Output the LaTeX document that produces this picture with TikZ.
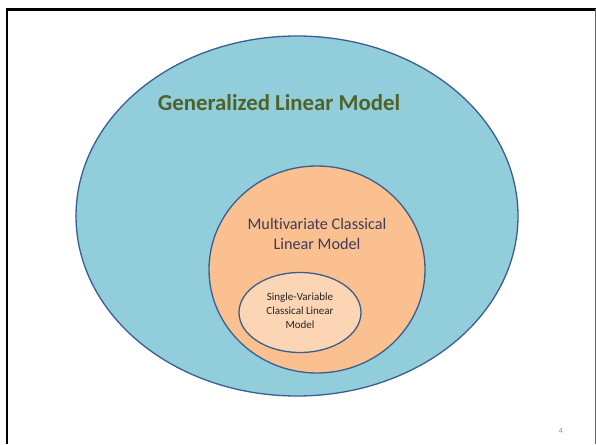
\documentclass[tikz,border=0pt]{standalone}
\usepackage{fontspec}
\setmainfont{Carlito}[Ligatures=CommonOff]
\usetikzlibrary{shapes.geometric}
\definecolor{ringblue}{HTML}{92CDDC}
\definecolor{ringorange}{HTML}{FAC090}
\definecolor{ringpeach}{HTML}{FCD5B5}
\definecolor{edgeblue}{HTML}{3A5F8E}
\definecolor{titlegreen}{HTML}{4F6228}
\definecolor{midtext}{HTML}{403A5C}
\begin{document}
\begin{tikzpicture}[x=1pt,y=-1pt,
  setbox/.style={draw=edgeblue,line width=1.3pt},
  lbl/.style={align=center,inner sep=0pt}]
\useasboundingbox (0,0) rectangle (596,444);
\fill[white] (0,0) rectangle (596,444);
% slide frame
\draw[black,line width=2.6pt] (5.7,9.5) -- (596,9.5);
\draw[black,line width=2.2pt] (7,8.2) -- (7,444);
\draw[black!60,line width=0.9pt] (595,9.5) -- (595,444);
% nested sets
\draw[setbox,fill=ringblue] (297,216) ellipse [x radius=221, y radius=180];
\draw[setbox,fill=ringorange] (317,269.5) ellipse [x radius=108, y radius=103.5];
\draw[setbox,fill=ringpeach] (300,312.5) ellipse [x radius=61, y radius=40];
% labels
\node[lbl,text=titlegreen,font=\bfseries\fontsize{22.8}{26}\selectfont] (glm) at (279,102.5) {Generalized Linear Model};
\node[lbl,text=midtext,font=\fontsize{16.2}{19.5}\selectfont] (mclm) at (317,234) {Multivariate Classical\\Linear Model};
\node[lbl,text=black!85,font=\fontsize{11}{14}\selectfont] (sclm) at (300,311) {Single-Variable\\Classical Linear\\Model};
\node[lbl,text=black!45,font=\fontsize{8}{9}\selectfont] (pg) at (561,431) {4};
\end{tikzpicture}
\end{document}
